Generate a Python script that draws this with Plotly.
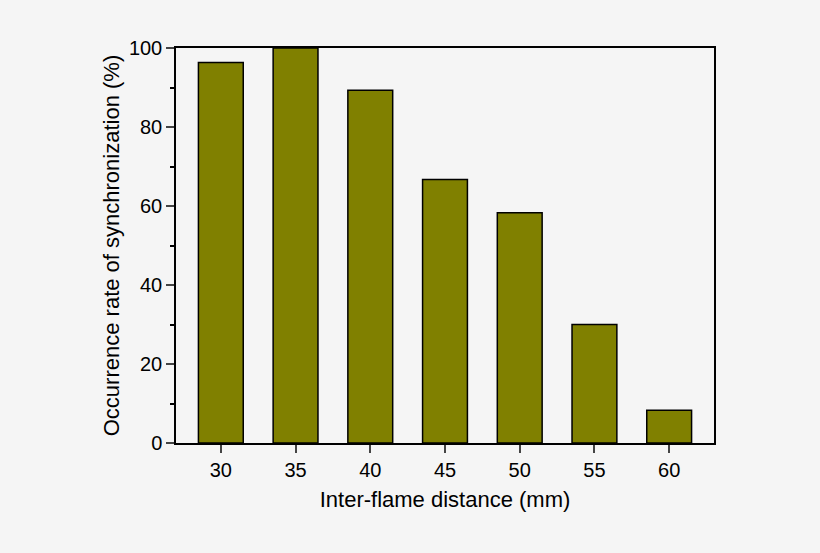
import plotly.graph_objects as go

distance = [30, 35, 40, 45, 50, 55, 60]
rate = [96.3, 100, 89.3, 66.7, 58.3, 30.0, 8.3]

fig = go.Figure()
fig.add_trace(go.Bar(x=distance, y=rate, width=3,
                     marker=dict(color="#808000", line=dict(color="black", width=1.5))))

fig.update_layout(
    width=820, height=553,
    paper_bgcolor="#f5f5f5", plot_bgcolor="#f5f5f5",
    margin=dict(l=176, r=106, t=48, b=110),
    font=dict(family="Liberation Sans, Arial", size=18, color="black"),
    showlegend=False,
)
fig.update_xaxes(range=[27, 63], tickvals=distance, ticks="outside", ticklen=8,
                 tickwidth=1.5, showline=True, linecolor="black", linewidth=1.5,
                 mirror=True, showgrid=False, zeroline=False, tickfont=dict(size=20),
                 title=dict(text="Inter-flame distance (mm)", standoff=12))
fig.update_yaxes(range=[0, 100], tickvals=[0, 20, 40, 60, 80, 100], ticks="outside",
                 ticklen=8, tickwidth=1.5, showline=True, linecolor="black",
                 linewidth=1.5, mirror=True, showgrid=False, zeroline=False,
                 tickfont=dict(size=20),
                 minor=dict(tickvals=[10, 30, 50, 70, 90], ticks="outside",
                            ticklen=4, tickwidth=1.5, tickcolor="black"),
                 title=dict(text="Occurrence rate of synchronization (%)", standoff=3))

fig.write_html("out.html", config={"displayModeBar": False},
               post_script="document.body.style.margin='0';"
                           "document.body.style.background='#f5f5f5';")
